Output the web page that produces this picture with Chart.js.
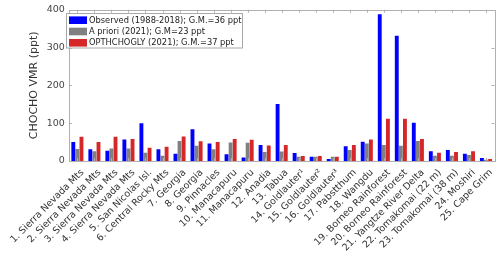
<!DOCTYPE html>
<html>
<head>
<meta charset="utf-8">
<script src="https://cdn.jsdelivr.net/npm/chart.js@4"></script>
<style>
  html, body { margin: 0; padding: 0; background: #fff; }
  #wrap { width: 500px; height: 253px; }
</style>
</head>
<body>
<div id="wrap"><canvas id="chart" width="500" height="253"></canvas></div>
<script>
const sites = [
  "1. Sierra Nevada Mts", "2. Sierra Nevada Mts", "3. Sierra Nevada Mts", "4. Sierra Nevada Mts",
  "5. San Nicolas Isl.", "6. Central Rocky Mts", "7. Georgia", "8. Georgia", "9. Pinnacles",
  "10. Manacapuru", "11. Manacapuru", "12. Anadia", "13. Tabua", "14. Goldlauter\u00b9",
  "15. Goldlauter\u00b2", "16. Goldlauter\u00b3", "17. Pabstthum", "18. Wangdu",
  "19. Borneo Rainforest", "20. Borneo Rainforest", "21. Yangtze River Delta",
  "22. Tomakomai (22 m)", "23. Tomakomai (38 m)", "24. Moshiri", "25. Cape Grim"
];
const observed = [50, 31, 27, 57, 100, 31, 19, 84, 46, 18, 9, 42, 151, 21, 11, 5, 39, 51, 388, 331, 101, 26, 29, 19, 8];
const aPriori  = [32, 26, 33, 33, 22, 14, 53, 40, 31, 49, 48, 24, 25, 11, 11, 11, 29, 46, 42, 40, 53, 14, 14, 16, 3];
const opthchogly = [64, 50, 64, 58, 35, 38, 65, 52, 50, 58, 56, 41, 42, 13, 13, 11, 42, 57, 112, 112, 58, 22, 24, 26, 5];
const yTicks = [0, 100, 200, 300, 400];

const seriesLabels = [
  "Observed (1988-2018); G.M.=36 ppt",
  "A priori (2021); G.M=23 ppt",
  "OPTHCHOGLY (2021); G.M.=37 ppt"
];
const seriesColors = ["#0000ff", "#808080", "#d62728"];

const frameAndLegend = {
  id: "frameAndLegend",
  afterDraw(chart) {
    const ctx = chart.ctx;
    const a = chart.chartArea;
    const xs = chart.scales.x, ys = chart.scales.y;
    ctx.save();
    ctx.strokeStyle = "#b0b0b0";
    ctx.lineWidth = 1;
    ctx.strokeRect(Math.round(a.left) + 0.5, Math.round(a.top) + 0.5,
                   Math.round(a.right - a.left), Math.round(a.bottom - a.top));
    ctx.beginPath();
    xs.ticks.forEach((t, i) => {
      const px = Math.round(xs.getPixelForTick(i)) + 0.5;
      ctx.moveTo(px, a.bottom); ctx.lineTo(px, a.bottom - 3);
      ctx.moveTo(px, a.top); ctx.lineTo(px, a.top + 3);
    });
    ys.ticks.forEach((t, i) => {
      const py = Math.round(ys.getPixelForTick(i)) + 0.5;
      ctx.moveTo(a.left, py); ctx.lineTo(a.left + 3, py);
      ctx.moveTo(a.right, py); ctx.lineTo(a.right - 3, py);
    });
    ctx.stroke();

    // legend box
    const bx = 66.5, by = 13.5, bw = 176, bh = 34.5;
    ctx.fillStyle = "#fff";
    ctx.fillRect(bx, by, bw, bh);
    ctx.strokeStyle = "#a8a8a8";
    ctx.strokeRect(bx, by, bw, bh);
    ctx.font = "8.3px 'DejaVu Sans'";
    ctx.textBaseline = "middle";
    chart.data.datasets.forEach((ds, i) => {
      const cy = by + 6.7 + i * 11.3;
      ctx.fillStyle = ds.backgroundColor;
      ctx.fillRect(bx + 2.5, cy - 3.8, 18, 7.6);
      ctx.fillStyle = "#222";
      ctx.fillText(ds.label, bx + 22.5, cy + 0.5);
    });
    ctx.restore();
  }
};

new Chart(document.getElementById("chart"), {
  type: "bar",
  data: {
    labels: sites,
    datasets: [
      { label: seriesLabels[0], data: observed, backgroundColor: seriesColors[0] },
      { label: seriesLabels[1], data: aPriori, backgroundColor: seriesColors[1] },
      { label: seriesLabels[2], data: opthchogly, backgroundColor: seriesColors[2] }
    ]
  },
  options: {
    responsive: false,
    animation: false,
    layout: { padding: { left: 0, top: 9, right: 5, bottom: 0 } },
    datasets: { bar: { categoryPercentage: 0.72, barPercentage: 0.95 } },
    plugins: { legend: { display: false }, tooltip: { enabled: false } },
    scales: {
      x: {
        grid: { display: false, drawTicks: false },
        border: { display: false },
        ticks: {
          autoSkip: false, minRotation: 45, maxRotation: 45, padding: 6, labelOffset: 5,
          color: "#333", font: { family: "DejaVu Sans", size: 9.5 }
        },
        afterFit(scale) { scale.height = 92; }
      },
      y: {
        min: 0, max: 400,
        afterBuildTicks(scale) { scale.ticks = yTicks.map(v => ({ value: v })); },
        grid: { display: false, drawTicks: false },
        border: { display: false },
        ticks: { padding: 4, color: "#444", font: { family: "DejaVu Sans", size: 9.5 } },
        title: {
          display: true, text: "CHOCHO VMR (ppt)", color: "#333",
          font: { family: "DejaVu Sans", size: 11 }, padding: { top: 21, bottom: 0 }
        },
        afterFit(scale) { scale.width = 62; }
      }
    }
  },
  plugins: [frameAndLegend]
});
</script>
</body>
</html>
